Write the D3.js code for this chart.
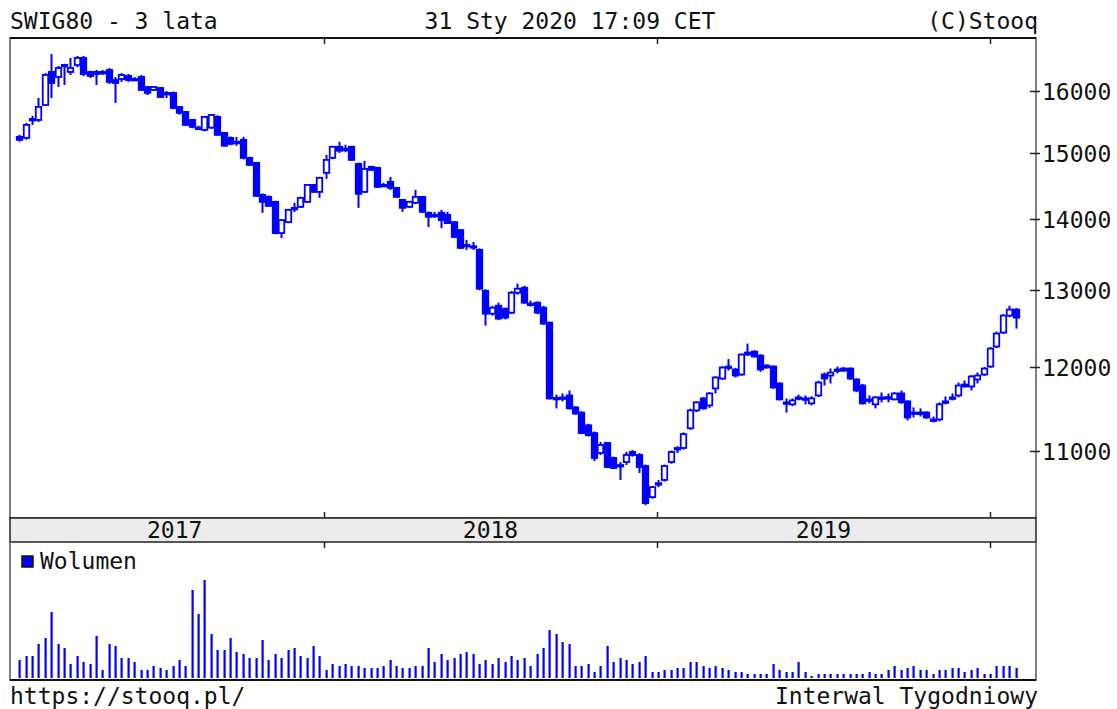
<!DOCTYPE html>
<html>
<head>
    <title>SWIG80 - 3 lata</title>
    <script src="https://d3js.org/d3.v7.min.js"></script>
    <style>
        body { margin: 0; background: #fff; }
        svg text { font-family: "DejaVu Sans Mono", "Liberation Mono", monospace; fill: #111; }
    </style>
</head>
<body>
    <svg width="1117" height="709" id="chart"></svg>

    <script>
        // weekly candles, SWIG80, Feb 2017 - Jan 2020 (plotted mid-week)
        const weeks = d3.timeWednesday.range(new Date(2017, 1, 1), new Date(2020, 0, 30));

        const open = [15253,15237,15524,15524,15768,16320,16235,16420,16320,16439,
            16560,16320,16320,16310,16354,16184,16201,16252,16190,16235,
            16067,16017,16050,15967,15967,15736,15654,15524,15400,15364,
            15400,15573,15316,15237,15170,15206,14922,14845,14358,14328,
            14254,13798,13956,14160,14180,14254,14508,14403,14691,14922,
            15096,15060,15096,14829,14403,14783,14768,14500,14554,14463,
            14283,14180,14239,14328,14092,14055,14092,14062,13956,13841,
            13620,13610,13558,12993,12686,12792,12752,12699,12966,13034,
            12820,12832,12765,12568,11620,11620,11650,11506,11444,11293,
            11202,10972,11087,10915,10830,10869,10983,10949,10824,10479,
            10630,10668,10869,11020,11029,11258,11470,11614,11530,11735,
            11857,12000,11969,11907,12182,12195,12144,12019,12006,11796,
            11560,11542,11626,11610,11554,11650,11907,11894,11965,11981,
            11981,11845,11771,11600,11542,11620,11630,11602,11674,11578,
            11440,11444,11444,11360,11362,11575,11620,11650,11783,11759,
            11845,11907,12006,12259,12439,12661,12740];

        const high = [15285,15476,15589,15884,16300,16627,16420,16460,16560,16594,
            16594,16340,16354,16354,16388,16235,16300,16286,16235,16269,
            16084,16084,16067,16000,15990,15750,15670,15540,15430,15590,
            15620,15600,15330,15260,15253,15253,14940,14860,14380,14350,
            14270,14000,14150,14239,14330,14520,14520,14630,14969,15110,
            15175,15128,15110,14850,14876,14800,14783,14540,14630,14478,
            14300,14270,14433,14343,14110,14106,14136,14106,13970,13855,
            13700,13670,13580,13010,12790,12832,12765,12990,13090,13060,
            12860,12850,12790,12580,11660,11674,11710,11520,11460,11310,
            11220,11100,11100,10930,10869,10983,11006,10970,10840,10600,
            10668,10840,11000,11050,11210,11490,11580,11630,11690,11885,
            12010,12100,11990,12170,12297,12210,12160,12035,12020,11810,
            11614,11614,11660,11650,11640,11830,11931,11981,12006,12000,
            11995,11860,11790,11650,11640,11686,11674,11690,11710,11590,
            11506,11494,11460,11397,11566,11638,11674,11808,11833,11900,
            11931,12000,12250,12452,12680,12792,12760];

        const low = [15175,15206,15444,15492,15750,15884,16067,16100,16269,16400,
            16252,16220,16100,16269,16120,15801,16151,16151,16170,16000,
            15933,16000,15884,15884,15700,15610,15430,15390,15364,15340,
            15380,15270,15100,15120,15112,14900,14800,14330,14092,14180,
            13780,13726,13940,14106,14165,14240,14390,14313,14600,14900,
            15000,15010,14876,14165,14390,14720,14463,14478,14433,14313,
            14106,14165,14220,14090,13884,14018,13870,13930,13726,13570,
            13558,13558,13000,12529,12660,12600,12610,12680,12940,12818,
            12780,12680,12540,11600,11494,11578,11480,11420,11190,11160,
            10880,10949,10800,10790,10668,10835,10930,10745,10391,10460,
            10588,10650,10850,10972,11010,11240,11450,11480,11500,11674,
            11840,11956,11870,11890,12140,12120,11940,11980,11730,11590,
            11444,11520,11590,11542,11530,11630,11771,11796,11920,11940,
            11840,11690,11540,11554,11494,11566,11566,11590,11550,11350,
            11385,11397,11370,11327,11340,11542,11590,11626,11747,11710,
            11796,11890,11990,12240,12420,12640,12490];

        const close = [15206,15444,15540,15736,16269,16134,16388,16440,16388,16560,
            16286,16252,16286,16320,16151,16134,16269,16184,16201,16017,
            15967,16067,15900,15960,15719,15638,15444,15412,15396,15573,
            15605,15285,15112,15143,15175,14922,14814,14343,14254,14194,
            13798,13985,14136,14165,14313,14508,14403,14615,14891,15096,
            15034,15065,14891,14373,14752,14737,14478,14508,14463,14328,
            14165,14254,14328,14106,14033,14062,13985,13942,13741,13586,
            13628,13600,13020,12686,12765,12621,12634,12966,13020,12832,
            12818,12699,12555,11614,11614,11626,11494,11432,11202,11178,
            10915,11064,10813,10801,10835,10949,10949,10813,10413,10588,
            10632,10824,10983,11029,11190,11470,11566,11494,11674,11870,
            11994,12006,11894,12157,12157,12132,11969,11994,11747,11602,
            11566,11590,11614,11614,11614,11808,11857,11931,11969,11956,
            11857,11710,11554,11602,11626,11626,11626,11674,11566,11385,
            11444,11440,11385,11362,11542,11578,11626,11771,11759,11882,
            11894,11981,12233,12426,12661,12740,12634];

        const volume = [18,22,22,34,40,66,34,30,14,22,
            16,14,42,8,34,32,20,20,16,8,
            8,12,10,8,12,18,12,88,64,98,
            44,28,28,40,26,24,20,20,38,18,
            24,20,28,30,22,20,32,22,8,14,
            12,14,12,12,10,10,10,12,18,12,
            10,10,12,12,30,16,24,18,20,24,
            26,24,14,18,14,20,16,22,18,20,
            12,24,30,48,44,36,34,12,12,14,
            6,12,32,16,20,18,14,16,22,6,
            6,8,8,10,10,16,16,12,10,12,
            10,8,6,6,4,4,4,4,14,8,
            6,6,16,6,2,4,4,4,4,4,
            4,4,4,6,4,4,8,12,8,10,
            12,8,8,4,8,8,10,10,6,8,
            10,4,4,12,12,12,10];

        const priceTicks = [11000, 12000, 13000, 14000, 15000, 16000];
        const years = [2017, 2018, 2019];

        const W = 1117, H = 709;
        const left = 10, right = 1036;
        const priceTop = 38, priceBottom = 518;
        const bandBottom = 542, volBottom = 680;
        const blue = "#0000ff";

        const svg = d3.select("#chart");
        svg.append("rect").attr("width", W).attr("height", H).attr("fill", "#fff");

        const x = d3.scaleTime()
            .domain([new Date(2018, 0, 1), new Date(2020, 0, 1)])
            .range([324, 990]);
        const y = d3.scaleLog()
            .domain([10253, 16908])
            .range([priceBottom, priceTop]);
        const yv = d3.scaleLinear()
            .domain([0, 136])
            .range([volBottom - 2, bandBottom]);

        // header + footer
        const fs = "23px";
        svg.append("text").attr("x", left).attr("y", 29).style("font-size", fs).text("SWIG80 - 3 lata");
        svg.append("text").attr("x", 570).attr("y", 29).attr("text-anchor", "middle").style("font-size", fs).text("31 Sty 2020 17:09 CET");
        svg.append("text").attr("x", right + 2).attr("y", 29).attr("text-anchor", "end").style("font-size", fs).text("(C)Stooq");
        svg.append("text").attr("x", left).attr("y", 704).style("font-size", fs).text("https://stooq.pl/");
        svg.append("text").attr("x", right + 2).attr("y", 704).attr("text-anchor", "end").style("font-size", fs).text("Interwal Tygodniowy");

        // panel frames
        svg.append("rect").attr("x", left).attr("y", priceTop).attr("width", right - left).attr("height", priceBottom - priceTop)
            .attr("fill", "none").attr("stroke", "#555").attr("stroke-width", 1.5);
        svg.append("line").attr("x1", left).attr("x2", right).attr("y1", priceTop).attr("y2", priceTop)
            .attr("stroke", "#111").attr("stroke-width", 2);
        svg.append("rect").attr("x", left).attr("y", priceBottom).attr("width", right - left).attr("height", bandBottom - priceBottom)
            .attr("fill", "#ececec").attr("stroke", "#222").attr("stroke-width", 1.5);
        svg.append("rect").attr("x", left).attr("y", bandBottom).attr("width", right - left).attr("height", volBottom - bandBottom)
            .attr("fill", "none").attr("stroke", "#555").attr("stroke-width", 1.5);
        svg.append("line").attr("x1", left).attr("x2", right).attr("y1", volBottom).attr("y2", volBottom)
            .attr("stroke", "#111").attr("stroke-width", 2);

        // year ticks + labels
        const yearStarts = [2018, 2019, 2020].map(yr => new Date(yr, 0, 1));
        yearStarts.forEach(d => {
            const xx = Math.round(x(d)) + 0.5;
            [[priceTop, priceTop + 6], [priceBottom - 6, priceBottom], [bandBottom, bandBottom + 6]].forEach(([a, b]) => {
                svg.append("line").attr("x1", xx).attr("x2", xx).attr("y1", a).attr("y2", b)
                    .attr("stroke", "#222").attr("stroke-width", 1.5);
            });
        });
        years.forEach(yr => {
            const a = Math.max(x(weeks[0]), x(new Date(yr, 0, 1)));
            const b = x(new Date(yr + 1, 0, 1));
            svg.append("text").attr("x", (a + b) / 2 + (yr === 2017 ? 3 : 0)).attr("y", 538).attr("text-anchor", "middle")
                .style("font-size", fs).text(yr);
        });

        // price axis on the right
        const axisG = svg.append("g").attr("transform", `translate(${right},0)`);
        priceTicks.forEach(t => {
            const yy = Math.round(y(t)) + 0.5;
            axisG.append("line").attr("x1", -6).attr("x2", 4).attr("y1", yy).attr("y2", yy)
                .attr("stroke", "#222").attr("stroke-width", 1.5);
            axisG.append("text").attr("x", 6).attr("y", yy).attr("dy", "0.36em")
                .style("font-size", fs).text(t);
        });

        // candles
        const data = weeks.map((d, i) => ({ date: d, o: open[i], h: high[i], l: low[i], c: close[i], v: volume[i] }));
        const bodyW = 5.5;
        const candle = svg.append("g").attr("class", "candles")
            .selectAll("g").data(data).enter().append("g")
            .attr("transform", d => `translate(${Math.round(x(d.date)) + 0.5},0)`);

        candle.append("line")
            .attr("y1", d => y(d.h)).attr("y2", d => y(d.l))
            .attr("stroke", blue).attr("stroke-width", 2);

        candle.append("rect")
            .attr("x", -bodyW / 2)
            .attr("width", bodyW)
            .attr("y", d => y(Math.max(d.o, d.c)))
            .attr("height", d => Math.max(1.5, Math.abs(y(d.o) - y(d.c))))
            .attr("fill", d => d.c > d.o + 20 ? "#fff" : blue)
            .attr("stroke", blue).attr("stroke-width", 1.8);

        // volume
        svg.append("g").selectAll("rect").data(data).enter().append("rect")
            .attr("x", d => Math.round(x(d.date)) - 0.5)
            .attr("width", 2.2)
            .attr("y", d => yv(d.v))
            .attr("height", d => yv(0) - yv(d.v))
            .attr("fill", blue);

        // legend
        svg.append("rect").attr("x", 22).attr("y", 556).attr("width", 11).attr("height", 11)
            .attr("fill", blue).attr("stroke", "#111").attr("stroke-width", 1.5);
        svg.append("text").attr("x", 40).attr("y", 569).style("font-size", fs).text("Wolumen");
    </script>
</body>
</html>
